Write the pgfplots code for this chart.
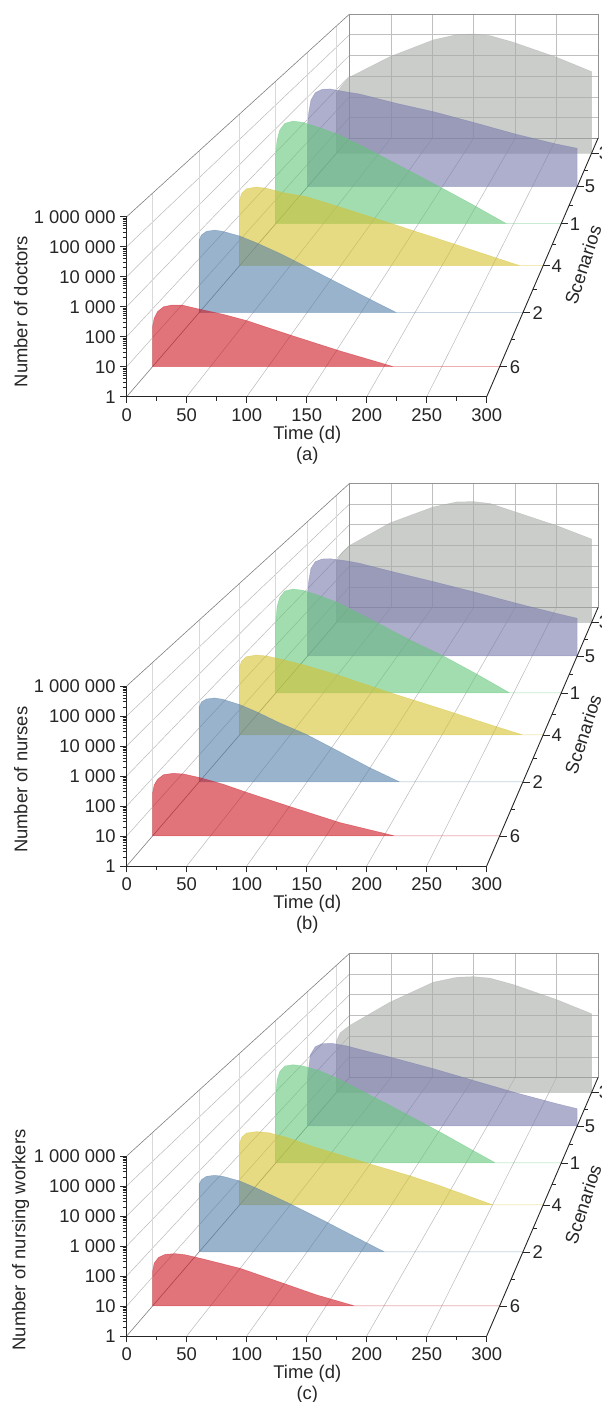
\documentclass[border=0pt]{standalone}
\usepackage{fontspec}
\setmainfont{Liberation Sans}
\usepackage{pgfplots}
\pgfplotsset{compat=1.18}

\definecolor{cgray}{HTML}{A8ACA8}
\definecolor{cpurple}{HTML}{787AAC}
\definecolor{cgreen}{HTML}{64C67B}
\definecolor{cyellow}{HTML}{D5C12F}
\definecolor{cblue}{HTML}{5580AA}
\definecolor{cred}{HTML}{CB1721}
\definecolor{ink}{HTML}{262626}

\newcommand\fs{\fontsize{18.4}{21}\selectfont}

% one scale per depth plane: the chart has a real perspective, so every
% scenario gets its own 2D axis, sized by its distance d from the front
\pgfplotsset{
  depthplane/.style={anchor=south west, scale only axis,
    xmin=0, xmax=300, ymin=1, ymax=1000000, clip=false},
  pixelframe/.style={anchor=south west, scale only axis, hide axis, width=602pt, height=470pt,
    xmin=0, xmax=602, ymin=0, ymax=470, y dir=reverse, clip=false, unbounded coords=jump},
}

% #1 panel offset, #2 depth, #3 colour, #4 (time, count) coordinates
\newcommand\scen[4]{%
  \pgfmathsetmacro\W{360-0.4308*#2}%
  \pgfmathsetmacro\xl{126.7+0.8615*#2}%
  \pgfmathsetmacro\yb{1402-396.7-#1+#2}%
  \pgfmathsetmacro\H{\W/2}%
  \begin{semilogyaxis}[depthplane, hide axis, at={(\xl pt,\yb pt)}, width=\W pt, height=\H pt]
    \addplot[fill=#3, fill opacity=0.6, draw=#3, draw opacity=0.45, line width=0.5pt] coordinates {#4} -- cycle;
  \end{semilogyaxis}%
}

% grid on floor, side wall and back wall
\newcommand\gridframe[1]{%
  \pgfmathsetmacro\yb{1402-470-#1}%
  \begin{axis}[pixelframe, at={(0pt,\yb pt)}]
    \addplot[gray!55, line width=0.5pt] coordinates {
      (186.7,396.7)(390.8,138.3) (nan,nan) (246.7,396.7)(432.2,138.3) (nan,nan)
      (306.7,396.7)(473.6,138.3) (nan,nan) (366.7,396.7)(515.1,138.3) (nan,nan)
      (426.7,396.7)(556.5,138.3) (nan,nan)
      (126.7,366.7)(349.3,117.6) (nan,nan) (126.7,336.7)(349.3,97) (nan,nan)
      (126.7,306.7)(349.3,76.3) (nan,nan) (126.7,276.7)(349.3,55.6) (nan,nan)
      (126.7,246.7)(349.3,35)
    };
    \addplot[gray!30, line width=0.6pt] coordinates {
      (152.5,366.7)(152.5,193.2) (nan,nan) (199.1,312.7)(199.1,150.8) (nan,nan)
      (239.6,265.7)(239.6,113.9) (nan,nan) (275.7,223.7)(275.7,80.95) (nan,nan)
      (307.6,186.7)(307.6,51.95) (nan,nan) (336.4,153.3)(336.4,25.75)
    };
    \addplot[gray, line width=0.6pt] coordinates {
      (126.7,396.7)(349.3,138.3) (nan,nan) (126.7,216.7)(349.3,14.3)
    };
  \end{axis}%
  \pgfmathsetmacro\yb{1402-138.3-#1}%
  \begin{semilogyaxis}[depthplane, at={(349.3pt,\yb pt)}, width=248.7pt, height=124.3pt,
      xtick={0,50,...,300}, ytick={1,10,100,1000,10000,100000,1000000}, minor ytick={},
      xticklabels={}, yticklabels={}, major tick length=0pt, minor tick length=0pt,
      grid=major, grid style={gray!50, line width=0.5pt},
      axis line style={gray!85, line width=0.6pt}]
  \end{semilogyaxis}%
}

% front axes, the scenario axis and all loose text
\newcommand\frontframe[3]{%
  \pgfmathsetmacro\yb{1402-470-#1}%
  \begin{axis}[pixelframe, at={(0pt,\yb pt)}]
    \addplot[ink, line width=0.9pt] coordinates {(486.7,396.7)(598,138.3)};
    \addplot[ink, line width=0.7pt] coordinates {
      (499.6,366.7)(506.6,366.7) (nan,nan) (522.9,312.7)(529.9,312.7) (nan,nan)
      (543.1,265.7)(550.1,265.7) (nan,nan) (561.2,223.7)(568.2,223.7) (nan,nan)
      (577.1,186.7)(584.1,186.7) (nan,nan) (591.5,153.3)(598.5,153.3) (nan,nan)
      (511.2,339.7)(514.7,339.7) (nan,nan) (533,289.2)(536.5,289.2) (nan,nan)
      (552.2,244.7)(555.7,244.7) (nan,nan) (569.2,205.2)(572.7,205.2) (nan,nan)
      (584.3,170)(587.8,170)
    };
    \begin{scope}[every node/.style={font=\fs, text=ink}]
      \node at (axis cs:515,366.7) {6};
      \node at (axis cs:537.7,312.7) {2};
      \node at (axis cs:556.7,265.7) {4};
      \node at (axis cs:575,223.7) {1};
      \node at (axis cs:590,186.7) {5};
      \node at (axis cs:604,153.3) {3};
      \node[rotate=72] at (axis cs:583,265) {Scenarios};
      \node at (axis cs:307.3,434.3) {Time (d)};
      \node at (axis cs:307.3,455.5) {(#2)};
      \node[rotate=90] at (axis cs:20.7,#3) {\ylab};
    \end{scope}
  \end{axis}%
  \pgfmathsetmacro\yb{1402-396.7-#1}%
  \begin{semilogyaxis}[anchor=south west, at={(126.7pt,\yb pt)}, scale only axis, width=360pt, height=180pt,
      xmin=0, xmax=300, ymin=1, ymax=1000000,
      axis x line*=bottom, axis y line*=left,
      axis line style={ink, line width=0.9pt},
      xtick={0,50,...,300}, minor xtick={25,75,...,275},
      ytick={1,10,100,1000,10000,100000,1000000}, minor ytick={},
      yticklabels={1,10,100,1 000,10 000,100 000,1 000 000},
      tick align=outside, major tick length=6.5pt, minor tick length=4pt,
      tick style={ink, line width=0.7pt},
      ticklabel style={font=\fs, text=ink},
      /pgf/number format/assume math mode=true,
      xticklabel style={yshift=-2pt}, yticklabel style={xshift=-1pt}]
  \end{semilogyaxis}%
}

\begin{document}
\begin{tikzpicture}
\path[use as bounding box] (0pt,0pt) rectangle (602pt,1402pt);

% (a) doctors
\gridframe{0}
\scen{0}{243.4}{cgray}{(0,1)(0,660)(6.3,1510)(15.3,3740)(63,35000)(114,214000)(141.5,380000)(161,408000)(180.7,340000)(208,166000)(259,32700)(300,6900)(300,1)}
\scen{0}{210}{cpurple}{(0,1)(0,468)(1.1,1840)(3.7,7200)(8.5,15200)(16,21600)(25,22400)(44,16300)(58,13300)(99,5100)(140,2180)(184.4,730)(232.6,213)(277,79)(300,51)(300,1)}
\scen{0}{173}{cgreen}{(0,1)(0,900)(1.4,3270)(4.2,8600)(9.5,16400)(18.2,20600)(28.7,18000)(46.2,10800)(67.3,5300)(107,845)(172,36)(207,6.3)(242.4,1)(300,1)}
\scen{0}{131}{cyellow}{(0,1)(0,390)(2,720)(6.9,1100)(16.8,1290)(26.7,1140)(43,770)(66,535)(95.8,229)(151.8,44)(198,11)(237.5,3.3)(277,1)(300,1)}
\scen{0}{84}{cblue}{(0,1)(0,490)(2.2,760)(6.8,1030)(14.5,1150)(22.2,1030)(37.7,690)(53,390)(74.7,158)(96.4,58)(130,11.9)(158,3.2)(183,1)(300,1)}
\scen{0}{30}{cred}{(0,1)(0,24)(1.4,47)(4.3,80)(9.5,118)(16.7,135)(25.4,135)(41.2,96)(61.4,64)(81.5,39)(119,12.4)(162,3.5)(208.3,1)(300,1)}
\def\ylab{Number of doctors}
\frontframe{0}{a}{311.5}

% (b) nurses
\gridframe{469.3}
\scen{469.3}{243.4}{cgray}{(0,1)(0,760)(6.3,1890)(15.3,4170)(63,48600)(114,275000)(141.5,472000)(161,490000)(180.7,398000)(208,172000)(259,36300)(300,8500)(300,1)}
\scen{469.3}{210}{cpurple}{(0,1)(0,520)(1.1,2040)(3.7,7950)(8.5,15800)(16,20700)(25,21400)(44,17000)(58,13300)(99,5100)(140,2040)(184,730)(232.6,221)(277,79)(300,47.5)(300,1)}
\scen{469.3}{173}{cgreen}{(0,1)(0,990)(1.4,4240)(4.2,10500)(9.5,19300)(18.2,23400)(28.7,20600)(46,12300)(67,5850)(102,1100)(141,169)(176,36)(211,6.3)(246,1)(300,1)}
\scen{469.3}{131}{cyellow}{(0,1)(0,485)(2,840)(6.9,1250)(16.8,1450)(26.7,1325)(43,950)(66,550)(95.8,243)(151.8,43)(198,11.3)(239,3.3)(280,1)(300,1)}
\scen{469.3}{84}{cblue}{(0,1)(0,600)(2.2,920)(6.8,1190)(14.5,1300)(22,1160)(37.7,735)(53,404)(74.7,154)(99.4,58)(130,13.3)(158,3.4)(186,1)(300,1)}
\scen{469.3}{30}{cred}{(0,1)(0,30)(1.4,58)(4.3,91)(9.5,132)(18,147)(26.7,139)(41,104)(61.4,61)(81.5,32)(119,10.3)(162,2.9)(209.7,1)(300,1)}
\def\ylab{Number of nurses}
\frontframe{469.3}{b}{310.5}

% (c) nursing workers
\gridframe{939.3}
\scen{939.3}{243.4}{cgray}{(0,1)(0,259)(4.3,640)(15.3,1410)(63,17800)(114,155000)(141.5,263000)(161,283000)(180.7,240000)(208,120000)(259,23500)(300,5100)(300,1)}
\scen{939.3}{210}{cpurple}{(0,1)(0,132)(1,310)(3,1450)(8.5,3400)(16,4620)(27,4790)(44,3630)(62,2340)(91.6,1175)(140,355)(184.4,107)(232.6,29.5)(277,9.9)(300,5.9)(300,1)}
\scen{939.3}{173}{cgreen}{(0,1)(0,720)(1.4,3070)(4.2,6900)(9.5,11900)(18.2,13500)(28.7,11900)(46,7600)(67,3270)(120,263)(172,20.7)(202,4.4)(231,1)(300,1)}
\scen{939.3}{131}{cyellow}{(0,1)(0,258)(2,473)(6.9,700)(16.8,794)(28.3,724)(46.4,473)(72.8,202)(128.8,42)(168,14.4)(198,5.8)(250.6,1)(300,1)}
\scen{939.3}{84}{cblue}{(0,1)(0,322)(2.2,480)(6.8,637)(14.5,694)(22,637)(37.7,428)(53,235)(84,62)(118,13)(146,3.4)(172,1)(300,1)}
\scen{939.3}{30}{cred}{(0,1)(0,15.4)(1.4,30)(5.2,48)(11,61)(19.6,64.6)(28.2,59)(44,42)(75.8,20)(113,6.1)(142,2.4)(175,1)(300,1)}
\def\ylab{Number of nursing workers}
\frontframe{939.3}{c}{300.7}
\end{tikzpicture}
\end{document}
